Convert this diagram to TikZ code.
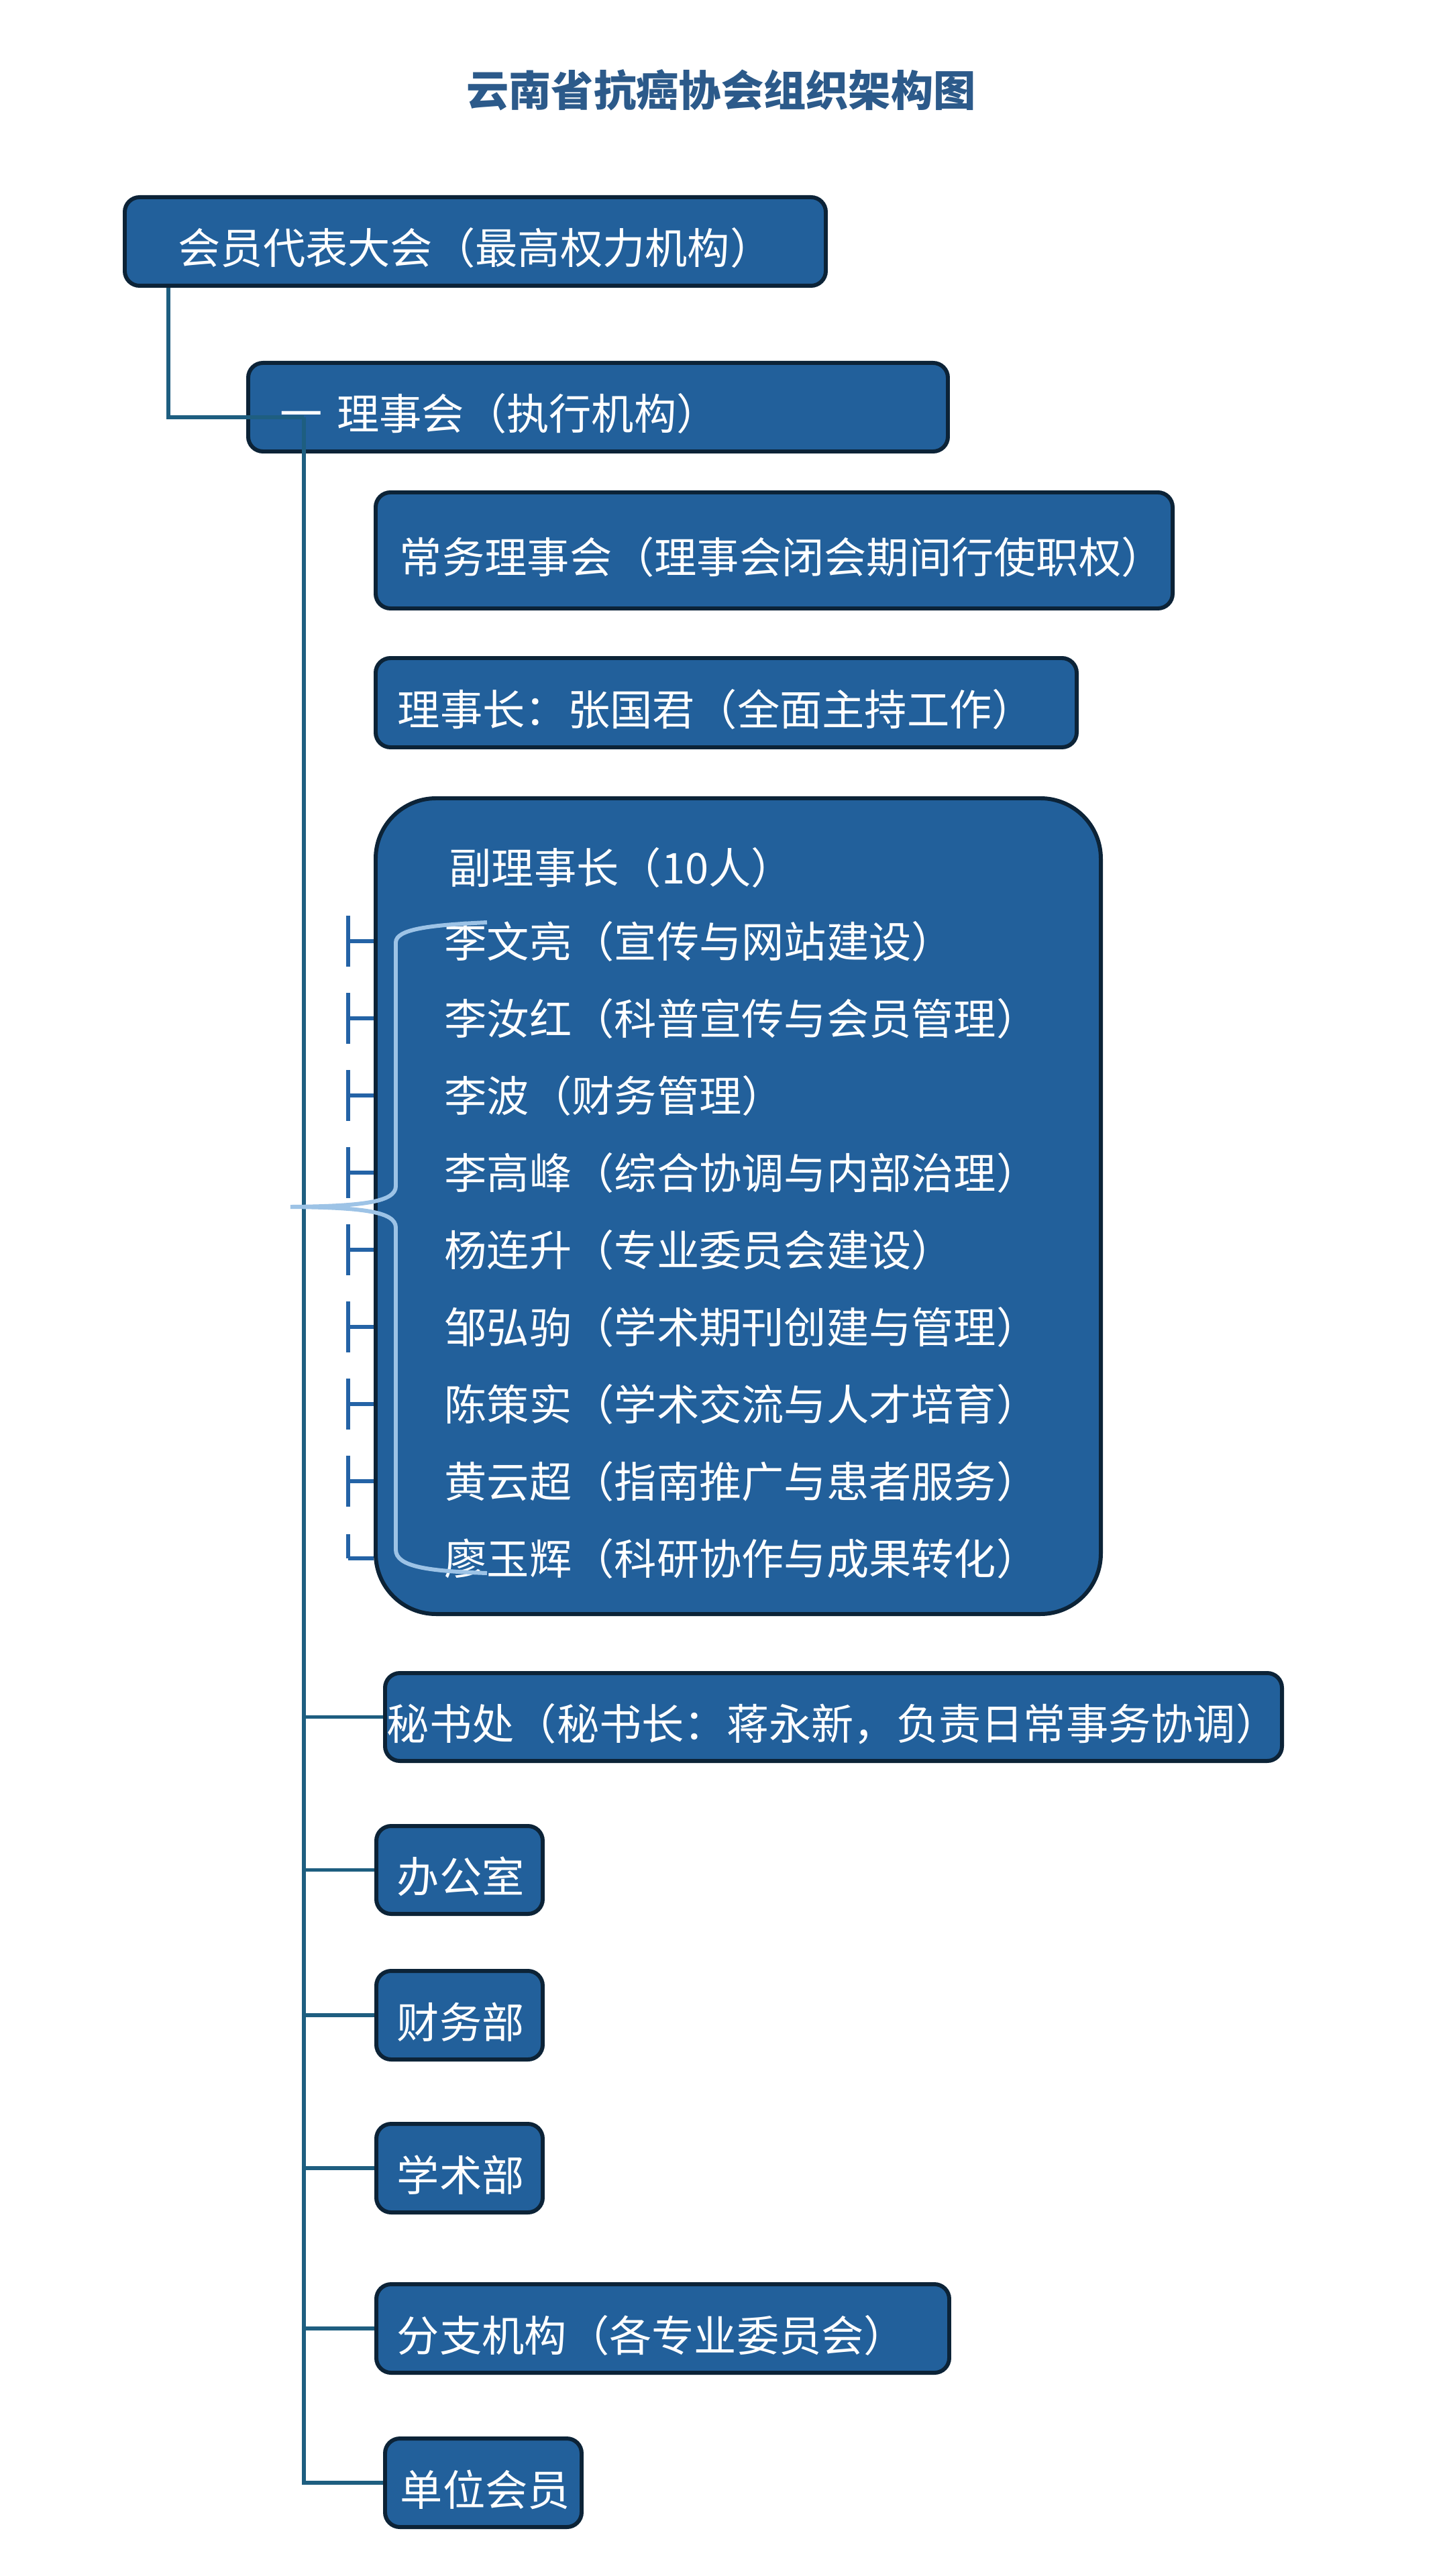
\documentclass[tikz,border=0pt]{standalone}
\usepackage{fontspec}
\newfontfamily\cjk{Noto Sans CJK SC}
\usepackage{tikz}

\definecolor{boxfill}{RGB}{34,96,155}
\definecolor{boxline}{RGB}{12,35,55}
\definecolor{linkblue}{RGB}{30,94,128}
\definecolor{tickblue}{RGB}{36,99,166}
\definecolor{bracelight}{RGB}{157,195,230}
\definecolor{titleblue}{RGB}{44,90,138}

\begin{document}
\begin{tikzpicture}[
  txt/.style={font=\cjk\fontsize{18pt}{21pt}\selectfont},
  unit/.style={txt, draw=boxline, fill=boxfill, line width=1.7pt,
    rounded corners=.22cm, text=white, anchor=north west,
    minimum height=1.32cm, inner ysep=0pt, align=left,
    text height=.76cm, text depth=.08cm},
  link/.style={linkblue, line width=1.6pt},
  tick/.style={tickblue, line width=1.5pt},
  member/.style={txt, text=white, anchor=west, inner sep=0pt}]
\useasboundingbox [fill=white] (0,0) rectangle (21.6,-38.4);
% title
\node [font=\cjk\bfseries\fontsize{18pt}{20pt}\selectfont, text=titleblue]
  (title) at (10.75,-1.34) {云南省抗癌协会组织架构图};
% top levels
\node [unit, align=center, minimum width=10.45cm, text width=10.05cm,
  inner xsep=.2cm] (congress) at (1.83,-2.91) {会员代表大会（最高权力机构）};
\node [unit, minimum width=10.43cm, text width=9.47cm, inner xsep=.48cm]
  (council) at (3.67,-5.38) {一 理事会（执行机构）};
\node [unit, minimum width=11.88cm, minimum height=1.73cm, text width=11.16cm,
  inner xsep=.36cm] (standing) at (5.57,-7.31) {常务理事会（理事会闭会期间行使职权）};
\node [unit, minimum width=10.45cm, minimum height=1.33cm, text width=9.79cm,
  inner xsep=.33cm] (chair) at (5.57,-9.78) {理事长：张国君（全面主持工作）};
% vice chairs
\node [unit, rounded corners=.9cm, minimum width=10.81cm, minimum height=12.16cm,
  inner sep=0pt, text height=0pt, text depth=0pt] (vice) at (5.57,-11.87) {};
\node [member] (vp0) at (6.69,-12.93) {副理事长（10人）};
\foreach \k/\t in {1/李文亮（宣传与网站建设）, 2/李汝红（科普宣传与会员管理）,
    3/李波（财务管理）, 4/李高峰（综合协调与内部治理）, 5/杨连升（专业委员会建设）,
    6/邹弘驹（学术期刊创建与管理）, 7/陈策实（学术交流与人才培育）,
    8/黄云超（指南推广与患者服务）, 9/廖玉辉（科研协作与成果转化）}
  \node [member] (vp\k) at (6.62,-14.03-1.15*\k+1.15) {\t};
% offices
\node [unit, minimum width=13.37cm, minimum height=1.31cm, text width=13.31cm,
  inner xsep=.03cm] (secretariat) at (5.71,-24.91) {秘书处（秘书长：蒋永新，负责日常事务协调）};
\node [unit, minimum width=2.48cm, minimum height=1.31cm, text width=1.86cm,
  inner xsep=.31cm] (office) at (5.58,-27.19) {办公室};
\node [unit, minimum width=2.48cm, text width=1.86cm, inner xsep=.31cm]
  (finance) at (5.58,-29.35) {财务部};
\node [unit, minimum width=2.48cm, text width=1.86cm, inner xsep=.31cm]
  (academic) at (5.58,-31.63) {学术部};
\node [unit, minimum width=8.54cm, text width=7.92cm, inner xsep=.31cm]
  (branch) at (5.58,-34.02) {分支机构（各专业委员会）};
\node [unit, minimum width=2.93cm, text width=2.47cm, inner xsep=.23cm]
  (members) at (5.71,-36.32) {单位会员};
% connectors
\coordinate (j) at (4.53,-6.22);
\coordinate (tk) at (5.19,0);
\draw [link] ([xshift=.68cm]congress.south west) |- (j);
\draw [link] (j) |- (members.west);
\foreach \b in {secretariat,office,finance,academic,branch}
  \draw [link] (j |- \b.west) -- (\b.west);
% ticks
\foreach \k in {1,...,8}
  \draw [tick] ([yshift=.38cm]vp\k.west -| tk) -- ([yshift=-.38cm]vp\k.west -| tk);
\draw [tick] ([yshift=.36cm]vp9.west -| tk) -- (vp9.west -| tk);
\foreach \k in {1,...,9}
  \draw [tick] (vp\k.west -| tk) -- (vp\k.west -| vice.west);
% brace
\draw [bracelight, line width=1.7pt]
  (7.26,-13.75) .. controls (6.4,-13.79) and (5.90,-13.85) .. (5.90,-14.05)
  -- (5.90,-17.68) .. controls (5.90,-17.92) and (5.4,-17.98) .. (4.33,-17.99)
  .. controls (5.4,-18.0) and (5.90,-18.06) .. (5.90,-18.30)
  -- (5.90,-23.10) .. controls (5.90,-23.36) and (6.4,-23.42) .. (7.26,-23.45);
\end{tikzpicture}
\end{document}
